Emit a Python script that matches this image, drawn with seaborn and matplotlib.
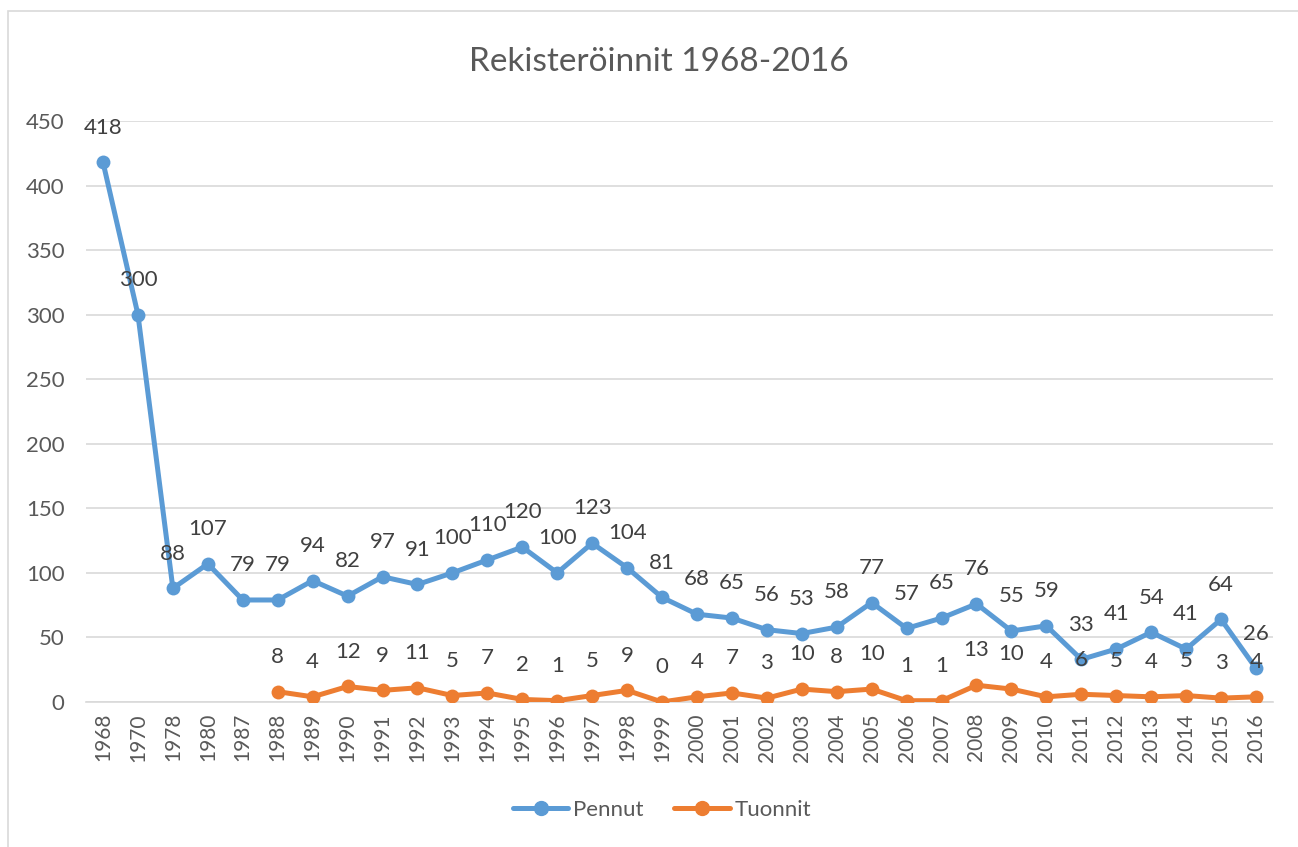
import matplotlib
matplotlib.use("Agg")
import matplotlib.pyplot as plt
import seaborn as sns
import pandas as pd
import numpy as np
from matplotlib.patches import Rectangle
from matplotlib.lines import Line2D

years = ["1968", "1970", "1978", "1980", "1987", "1988", "1989", "1990", "1991", "1992",
         "1993", "1994", "1995", "1996", "1997", "1998", "1999", "2000", "2001", "2002",
         "2003", "2004", "2005", "2006", "2007", "2008", "2009", "2010", "2011", "2012",
         "2013", "2014", "2015", "2016"]
pennut = [418, 300, 88, 107, 79, 79, 94, 82, 97, 91, 100, 110, 120, 100, 123, 104, 81,
          68, 65, 56, 53, 58, 77, 57, 65, 76, 55, 59, 33, 41, 54, 41, 64, 26]
tuonnit_years = years[5:]
tuonnit = [8, 4, 12, 9, 11, 5, 7, 2, 1, 5, 9, 0, 4, 7, 3, 10, 8, 10, 1, 1, 13, 10, 4,
           6, 5, 4, 5, 3, 4]

title = "Rekisteröinnit 1968-2016"
blue = "#5B9BD5"
orange = "#ED7D31"
text_gray = "#595959"
grid_gray = "#D9D9D9"

sns.set_theme(style="white")
plt.rcParams["font.family"] = ["Lato", "DejaVu Sans"]

fig = plt.figure(figsize=(12.98, 8.47), dpi=100)
ax = fig.add_axes([0.0659, 0.1712, 0.9152, 0.6860])

pos = {y: i for i, y in enumerate(years)}
df_p = pd.DataFrame({"x": [pos[y] for y in years], "v": pennut})
df_t = pd.DataFrame({"x": [pos[y] for y in tuonnit_years], "v": tuonnit})

lw = 3.6
ms = 10
sns.lineplot(data=df_p, x="x", y="v", ax=ax, color=blue, linewidth=lw, marker="o",
             markersize=ms, markeredgewidth=0, legend=False, zorder=3)
sns.lineplot(data=df_t, x="x", y="v", ax=ax, color=orange, linewidth=lw, marker="o",
             markersize=ms, markeredgewidth=0, legend=False, zorder=3)

for df in (df_p, df_t):
    for x, v in zip(df["x"], df["v"]):
        ax.annotate(str(v), (x, v), xytext=(0, 25), textcoords="offset points",
                    ha="center", va="center", fontsize=16, color="#404040", zorder=4)

ax.set_xlim(-0.5, len(years) - 0.5)
ax.set_ylim(0, 450)
ax.set_yticks(np.arange(0, 451, 50))
ax.set_xticks(range(len(years)))
ax.set_xticklabels(years, rotation=90)
ax.tick_params(axis="y", labelsize=16, colors=text_gray, length=0, pad=15)
ax.tick_params(axis="x", labelsize=15, colors=text_gray, length=0, pad=8)
ax.set_xlabel("")
ax.set_ylabel("")
ax.grid(axis="y", color=grid_gray, linewidth=1.2)
ax.set_axisbelow(True)
for s in ["top", "right", "left"]:
    ax.spines[s].set_visible(False)
ax.spines["bottom"].set_color(grid_gray)
ax.spines["bottom"].set_linewidth(1.2)

fig.text(659 / 1298, 1 - 62 / 847, title, fontsize=24, color=text_gray,
         ha="center", va="center")

handles = [Line2D([], [], color=blue, linewidth=lw, marker="o", markersize=ms),
           Line2D([], [], color=orange, linewidth=lw, marker="o", markersize=ms)]
fig.legend(handles, ["Pennut", "Tuonnit"], loc="center",
           bbox_to_anchor=(662 / 1298, 1 - 810 / 847),
           ncol=2, frameon=False, fontsize=16, labelcolor=text_gray, handlelength=2.5,
           columnspacing=1.4, handletextpad=0.2)

fig.patches.append(Rectangle((8 / 1298, -0.1), 1.2, 0.1 + (1 - 11 / 847),
                             transform=fig.transFigure, fill=False,
                             edgecolor=grid_gray, linewidth=1.2, zorder=0))

fig.savefig("out.png", dpi=100, facecolor="white")
